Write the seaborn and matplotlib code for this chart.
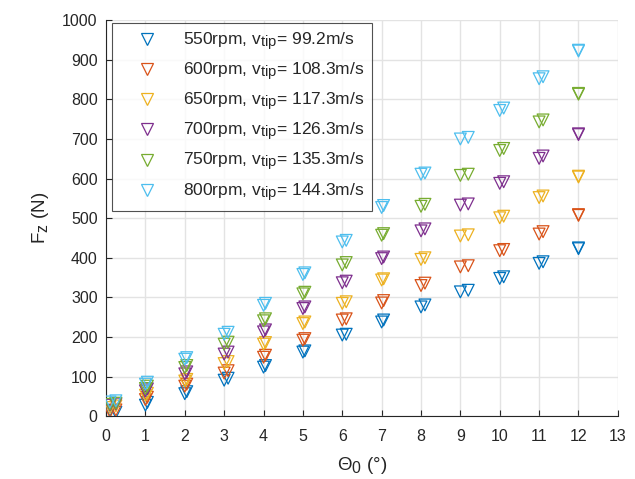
import matplotlib
matplotlib.use("Agg")
import matplotlib.pyplot as plt
import matplotlib._mathtext as mathtext_impl
from matplotlib.lines import Line2D
import seaborn as sns
import pandas as pd

# Collective pitch settings (deg) for the two repeated runs
theta_run1 = [0.1, 1.0, 2.0, 3.0, 4.0, 5.0, 6.0, 7.0, 8.0, 9.0, 10.0, 11.0, 12.0]
theta_run2 = [0.25, 1.05, 2.05, 3.1, 4.05, 5.05, 6.1, 7.05, 8.1, 9.2, 10.1, 11.1, 12.0]

rpm_labels = ["550rpm", "600rpm", "650rpm", "700rpm", "750rpm", "800rpm"]
tip_speeds = ["99.2", "108.3", "117.3", "126.3", "135.3", "144.3"]

# Thrust Fz (N), run 1
fz_550_a = [15, 28, 57, 91, 124, 162, 205, 238, 276, 314, 348, 386, 423]
fz_600_a = [12, 42, 76, 109, 149, 192, 243, 286, 330, 377, 418, 460, 507]
fz_650_a = [22, 53, 89, 133, 182, 234, 285, 344, 396, 455, 501, 552, 604]
fz_700_a = [28, 64, 107, 157, 213, 272, 337, 398, 468, 533, 588, 651, 711]
fz_750_a = [30, 70, 123, 182, 241, 309, 382, 457, 530, 608, 671, 743, 813]
fz_800_a = [36, 81, 144, 207, 280, 358, 440, 527, 611, 700, 772, 852, 922]

# Thrust Fz (N), run 2
fz_550_b = [10, 35, 62, 96, 128, 165, 207, 243, 281, 318, 352, 390, 425]
fz_600_b = [16, 48, 81, 115, 154, 196, 246, 292, 336, 380, 421, 466, 509]
fz_650_b = [26, 58, 93, 138, 186, 238, 289, 347, 400, 458, 505, 556, 606]
fz_700_b = [31, 69, 112, 162, 218, 276, 341, 402, 473, 536, 592, 657, 713]
fz_750_b = [33, 76, 128, 187, 246, 313, 388, 461, 535, 611, 676, 748, 815]
fz_800_b = [39, 86, 148, 212, 285, 362, 444, 532, 614, 704, 778, 857, 924]

runs_a = [fz_550_a, fz_600_a, fz_650_a, fz_700_a, fz_750_a, fz_800_a]
runs_b = [fz_550_b, fz_600_b, fz_650_b, fz_700_b, fz_750_b, fz_800_b]

colors = ["#0072BD", "#D95319", "#EDB120", "#7E2F8E", "#77AC30", "#4DBEEE"]

sns.set_theme(style="white")
plt.rcParams["font.family"] = ["Liberation Sans", "DejaVu Sans"]
plt.rcParams["mathtext.fontset"] = "custom"
plt.rcParams["mathtext.rm"] = "Liberation Sans"
plt.rcParams["mathtext.it"] = "Liberation Sans:italic"
# larger subscripts, closer to the main text size
mathtext_impl.SHRINK_FACTOR = 0.85

fig = plt.figure(figsize=(6.35, 4.79), dpi=100)
ax = fig.add_axes([0.167, 0.131, 0.806, 0.827])

for lab, c, fa, fb in zip(rpm_labels, colors, runs_a, runs_b):
    for th, fz in ((theta_run1, fa), (theta_run2, fb)):
        df = pd.DataFrame({"theta": th, "fz": fz})
        sns.scatterplot(data=df, x="theta", y="fz", marker="v", s=72,
                        color=c, ax=ax, legend=False, zorder=3)
        coll = ax.collections[-1]
        coll.set_facecolor("none")
        coll.set_edgecolor(c)
        coll.set_linewidth(0.9)

ax.set_xlim(0, 13)
ax.set_ylim(0, 1000)
ax.set_xticks(range(0, 14))
ax.set_yticks(range(0, 1001, 100))
ax.grid(True, color="#e3e3e3", linewidth=1.0)
ax.set_axisbelow(True)

for side in ("top", "right"):
    ax.spines[side].set_visible(False)
for side in ("left", "bottom"):
    ax.spines[side].set_color("#262626")
    ax.spines[side].set_linewidth(0.8)

ax.tick_params(axis="both", direction="in", length=4, width=0.8,
               color="#262626", labelcolor="#262626", labelsize=11.5,
               left=True, bottom=True)
ax.tick_params(axis="x", pad=9)
ax.tick_params(axis="y", pad=6)

ax.set_xlabel("Θ$_\\mathregular{0}$ (°)", fontsize=13.5, color="#262626", labelpad=8)
ax.set_ylabel("F$_\\mathregular{z}$ (N)", fontsize=13.5, color="#262626", labelpad=8)

handles = [Line2D([0], [0], linestyle="none", marker="v", markersize=9,
                  markerfacecolor="none", markeredgecolor=c, markeredgewidth=0.9)
           for c in colors]
labels = [f"{r}, v$_\\mathregular{{tip}}$= {v}m/s" for r, v in zip(rpm_labels, tip_speeds)]
leg = ax.legend(handles, labels, loc="upper left", bbox_to_anchor=(0.012, 0.993),
                fontsize=12.5, frameon=True, fancybox=False, borderpad=0.45,
                labelspacing=0.46, handletextpad=0.5, handlelength=3.12,
                borderaxespad=0.0)
leg.get_frame().set_edgecolor("#262626")
leg.get_frame().set_linewidth(0.8)
for t in leg.get_texts():
    t.set_color("#262626")

fig.savefig("out.png", dpi=100)
